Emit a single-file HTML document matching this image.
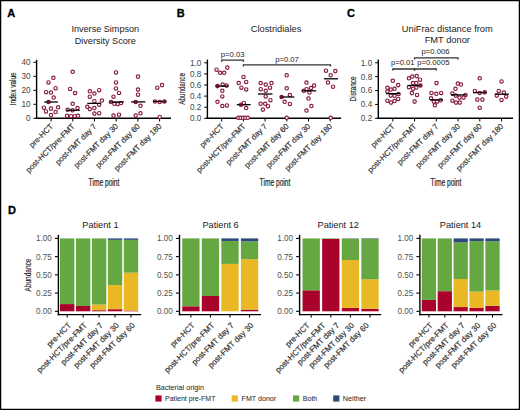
<!DOCTYPE html>
<html><head><meta charset="utf-8"><style>
html,body{margin:0;padding:0;background:#fff;}
svg{display:block;}
text{font-family:"Liberation Sans", sans-serif;}
</style></head><body>
<svg width="520" height="410" viewBox="0 0 520 410">
<rect x="0" y="0" width="520" height="410" fill="#fff"/>
<line x1="36.60" y1="59.80" x2="36.60" y2="119.00" stroke="#000" stroke-width="1.4"/>
<line x1="35.90" y1="118.30" x2="171.00" y2="118.30" stroke="#000" stroke-width="1.4"/>
<line x1="33.40" y1="118.30" x2="36.60" y2="118.30" stroke="#000" stroke-width="1.0"/>
<text x="30.50" y="121.20" font-size="8.2" text-anchor="end" fill="#454545" font-weight="normal" >0</text>
<line x1="33.40" y1="104.30" x2="36.60" y2="104.30" stroke="#000" stroke-width="1.0"/>
<text x="30.50" y="107.20" font-size="8.2" text-anchor="end" fill="#454545" font-weight="normal" >10</text>
<line x1="33.40" y1="90.30" x2="36.60" y2="90.30" stroke="#000" stroke-width="1.0"/>
<text x="30.50" y="93.20" font-size="8.2" text-anchor="end" fill="#454545" font-weight="normal" >20</text>
<line x1="33.40" y1="76.30" x2="36.60" y2="76.30" stroke="#000" stroke-width="1.0"/>
<text x="30.50" y="79.20" font-size="8.2" text-anchor="end" fill="#454545" font-weight="normal" >30</text>
<line x1="33.40" y1="62.30" x2="36.60" y2="62.30" stroke="#000" stroke-width="1.0"/>
<text x="30.50" y="65.20" font-size="8.2" text-anchor="end" fill="#454545" font-weight="normal" >40</text>
<line x1="51.10" y1="118.30" x2="51.10" y2="121.50" stroke="#000" stroke-width="1.0"/>
<line x1="72.80" y1="118.30" x2="72.80" y2="121.50" stroke="#000" stroke-width="1.0"/>
<line x1="94.50" y1="118.30" x2="94.50" y2="121.50" stroke="#000" stroke-width="1.0"/>
<line x1="116.20" y1="118.30" x2="116.20" y2="121.50" stroke="#000" stroke-width="1.0"/>
<line x1="137.90" y1="118.30" x2="137.90" y2="121.50" stroke="#000" stroke-width="1.0"/>
<line x1="159.60" y1="118.30" x2="159.60" y2="121.50" stroke="#000" stroke-width="1.0"/>
<circle cx="53.40" cy="77.80" r="1.7" fill="#fff" stroke="#881c3f" stroke-width="1.15"/>
<circle cx="48.50" cy="82.40" r="1.7" fill="#fff" stroke="#881c3f" stroke-width="1.15"/>
<circle cx="55.60" cy="88.20" r="1.7" fill="#fff" stroke="#881c3f" stroke-width="1.15"/>
<circle cx="46.10" cy="92.20" r="1.7" fill="#fff" stroke="#881c3f" stroke-width="1.15"/>
<circle cx="51.00" cy="92.50" r="1.7" fill="#fff" stroke="#881c3f" stroke-width="1.15"/>
<circle cx="53.70" cy="97.50" r="1.7" fill="#fff" stroke="#881c3f" stroke-width="1.15"/>
<circle cx="48.50" cy="102.00" r="1.7" fill="#fff" stroke="#881c3f" stroke-width="1.15"/>
<circle cx="43.90" cy="107.70" r="1.7" fill="#fff" stroke="#881c3f" stroke-width="1.15"/>
<circle cx="46.00" cy="111.40" r="1.7" fill="#fff" stroke="#881c3f" stroke-width="1.15"/>
<circle cx="51.00" cy="108.60" r="1.7" fill="#fff" stroke="#881c3f" stroke-width="1.15"/>
<circle cx="58.10" cy="107.30" r="1.7" fill="#fff" stroke="#881c3f" stroke-width="1.15"/>
<circle cx="55.60" cy="112.00" r="1.7" fill="#fff" stroke="#881c3f" stroke-width="1.15"/>
<circle cx="51.00" cy="115.00" r="1.7" fill="#fff" stroke="#881c3f" stroke-width="1.15"/>
<circle cx="72.70" cy="71.80" r="1.7" fill="#fff" stroke="#881c3f" stroke-width="1.15"/>
<circle cx="70.10" cy="88.90" r="1.7" fill="#fff" stroke="#881c3f" stroke-width="1.15"/>
<circle cx="75.10" cy="93.10" r="1.7" fill="#fff" stroke="#881c3f" stroke-width="1.15"/>
<circle cx="72.70" cy="103.80" r="1.7" fill="#fff" stroke="#881c3f" stroke-width="1.15"/>
<circle cx="67.70" cy="109.80" r="1.7" fill="#fff" stroke="#881c3f" stroke-width="1.15"/>
<circle cx="77.50" cy="108.00" r="1.7" fill="#fff" stroke="#881c3f" stroke-width="1.15"/>
<circle cx="72.50" cy="110.30" r="1.7" fill="#fff" stroke="#881c3f" stroke-width="1.15"/>
<circle cx="67.00" cy="115.80" r="1.7" fill="#fff" stroke="#881c3f" stroke-width="1.15"/>
<circle cx="71.00" cy="116.20" r="1.7" fill="#fff" stroke="#881c3f" stroke-width="1.15"/>
<circle cx="74.70" cy="116.20" r="1.7" fill="#fff" stroke="#881c3f" stroke-width="1.15"/>
<circle cx="78.00" cy="115.80" r="1.7" fill="#fff" stroke="#881c3f" stroke-width="1.15"/>
<circle cx="89.80" cy="91.30" r="1.7" fill="#fff" stroke="#881c3f" stroke-width="1.15"/>
<circle cx="94.40" cy="93.50" r="1.7" fill="#fff" stroke="#881c3f" stroke-width="1.15"/>
<circle cx="99.20" cy="90.20" r="1.7" fill="#fff" stroke="#881c3f" stroke-width="1.15"/>
<circle cx="89.80" cy="96.70" r="1.7" fill="#fff" stroke="#881c3f" stroke-width="1.15"/>
<circle cx="94.40" cy="101.20" r="1.7" fill="#fff" stroke="#881c3f" stroke-width="1.15"/>
<circle cx="101.90" cy="100.50" r="1.7" fill="#fff" stroke="#881c3f" stroke-width="1.15"/>
<circle cx="99.20" cy="104.70" r="1.7" fill="#fff" stroke="#881c3f" stroke-width="1.15"/>
<circle cx="87.30" cy="106.80" r="1.7" fill="#fff" stroke="#881c3f" stroke-width="1.15"/>
<circle cx="89.80" cy="109.10" r="1.7" fill="#fff" stroke="#881c3f" stroke-width="1.15"/>
<circle cx="94.40" cy="108.00" r="1.7" fill="#fff" stroke="#881c3f" stroke-width="1.15"/>
<circle cx="94.40" cy="113.60" r="1.7" fill="#fff" stroke="#881c3f" stroke-width="1.15"/>
<circle cx="99.20" cy="113.20" r="1.7" fill="#fff" stroke="#881c3f" stroke-width="1.15"/>
<circle cx="116.00" cy="72.40" r="1.7" fill="#fff" stroke="#881c3f" stroke-width="1.15"/>
<circle cx="116.00" cy="82.40" r="1.7" fill="#fff" stroke="#881c3f" stroke-width="1.15"/>
<circle cx="116.00" cy="88.40" r="1.7" fill="#fff" stroke="#881c3f" stroke-width="1.15"/>
<circle cx="119.00" cy="92.90" r="1.7" fill="#fff" stroke="#881c3f" stroke-width="1.15"/>
<circle cx="113.50" cy="96.70" r="1.7" fill="#fff" stroke="#881c3f" stroke-width="1.15"/>
<circle cx="111.00" cy="102.00" r="1.7" fill="#fff" stroke="#881c3f" stroke-width="1.15"/>
<circle cx="114.40" cy="103.80" r="1.7" fill="#fff" stroke="#881c3f" stroke-width="1.15"/>
<circle cx="117.80" cy="104.10" r="1.7" fill="#fff" stroke="#881c3f" stroke-width="1.15"/>
<circle cx="121.00" cy="103.00" r="1.7" fill="#fff" stroke="#881c3f" stroke-width="1.15"/>
<circle cx="113.50" cy="115.60" r="1.7" fill="#fff" stroke="#881c3f" stroke-width="1.15"/>
<circle cx="119.00" cy="114.70" r="1.7" fill="#fff" stroke="#881c3f" stroke-width="1.15"/>
<circle cx="138.00" cy="76.60" r="1.7" fill="#fff" stroke="#881c3f" stroke-width="1.15"/>
<circle cx="138.00" cy="89.60" r="1.7" fill="#fff" stroke="#881c3f" stroke-width="1.15"/>
<circle cx="138.00" cy="94.70" r="1.7" fill="#fff" stroke="#881c3f" stroke-width="1.15"/>
<circle cx="135.70" cy="101.90" r="1.7" fill="#fff" stroke="#881c3f" stroke-width="1.15"/>
<circle cx="140.50" cy="105.80" r="1.7" fill="#fff" stroke="#881c3f" stroke-width="1.15"/>
<circle cx="140.50" cy="113.30" r="1.7" fill="#fff" stroke="#881c3f" stroke-width="1.15"/>
<circle cx="135.70" cy="115.60" r="1.7" fill="#fff" stroke="#881c3f" stroke-width="1.15"/>
<circle cx="157.30" cy="87.70" r="1.7" fill="#fff" stroke="#881c3f" stroke-width="1.15"/>
<circle cx="162.00" cy="85.10" r="1.7" fill="#fff" stroke="#881c3f" stroke-width="1.15"/>
<circle cx="155.00" cy="101.50" r="1.7" fill="#fff" stroke="#881c3f" stroke-width="1.15"/>
<circle cx="159.70" cy="101.90" r="1.7" fill="#fff" stroke="#881c3f" stroke-width="1.15"/>
<circle cx="164.40" cy="101.50" r="1.7" fill="#fff" stroke="#881c3f" stroke-width="1.15"/>
<circle cx="159.70" cy="116.90" r="1.7" fill="#fff" stroke="#881c3f" stroke-width="1.15"/>
<line x1="44.30" y1="102.00" x2="57.90" y2="102.00" stroke="#000" stroke-width="1.3"/>
<line x1="66.20" y1="110.30" x2="79.80" y2="110.30" stroke="#000" stroke-width="1.3"/>
<line x1="87.30" y1="103.40" x2="101.10" y2="103.40" stroke="#000" stroke-width="1.3"/>
<line x1="109.50" y1="102.00" x2="123.80" y2="102.00" stroke="#000" stroke-width="1.3"/>
<line x1="131.10" y1="101.90" x2="145.30" y2="101.90" stroke="#000" stroke-width="1.3"/>
<line x1="153.00" y1="101.50" x2="166.50" y2="101.50" stroke="#000" stroke-width="1.3"/>
<text transform="translate(53.50,126.90) rotate(-45)" font-size="7.8" text-anchor="end" fill="#333" stroke="#333" stroke-width="0.2">pre-HCT</text>
<text transform="translate(75.20,126.90) rotate(-45)" font-size="7.8" text-anchor="end" fill="#333" stroke="#333" stroke-width="0.2">post-HCT/pre-FMT</text>
<text transform="translate(96.90,126.90) rotate(-45)" font-size="7.8" text-anchor="end" fill="#333" stroke="#333" stroke-width="0.2">post-FMT day 7</text>
<text transform="translate(118.60,126.90) rotate(-45)" font-size="7.8" text-anchor="end" fill="#333" stroke="#333" stroke-width="0.2">post-FMT day 30</text>
<text transform="translate(140.30,126.90) rotate(-45)" font-size="7.8" text-anchor="end" fill="#333" stroke="#333" stroke-width="0.2">post-FMT day 60</text>
<text transform="translate(162.00,126.90) rotate(-45)" font-size="7.8" text-anchor="end" fill="#333" stroke="#333" stroke-width="0.2">post-FMT day 180</text>
<text transform="translate(15.60,88.9) rotate(-90)" font-size="8.6" text-anchor="middle" stroke="#222" stroke-width="0.15" fill="#222" textLength="33" lengthAdjust="spacingAndGlyphs">Index value</text>
<text x="104.00" y="185.60" font-size="10.2" text-anchor="middle" fill="#222" font-weight="normal" textLength="30.8" lengthAdjust="spacingAndGlyphs" stroke="#222" stroke-width="0.2">Time point</text>
<line x1="207.40" y1="59.60" x2="207.40" y2="119.00" stroke="#000" stroke-width="1.4"/>
<line x1="206.70" y1="118.30" x2="341.10" y2="118.30" stroke="#000" stroke-width="1.4"/>
<line x1="204.20" y1="118.30" x2="207.40" y2="118.30" stroke="#000" stroke-width="1.0"/>
<text x="201.30" y="121.20" font-size="8.2" text-anchor="end" fill="#454545" font-weight="normal" >0.0</text>
<line x1="204.20" y1="107.20" x2="207.40" y2="107.20" stroke="#000" stroke-width="1.0"/>
<text x="201.30" y="110.10" font-size="8.2" text-anchor="end" fill="#454545" font-weight="normal" >0.2</text>
<line x1="204.20" y1="96.10" x2="207.40" y2="96.10" stroke="#000" stroke-width="1.0"/>
<text x="201.30" y="99.00" font-size="8.2" text-anchor="end" fill="#454545" font-weight="normal" >0.4</text>
<line x1="204.20" y1="85.00" x2="207.40" y2="85.00" stroke="#000" stroke-width="1.0"/>
<text x="201.30" y="87.90" font-size="8.2" text-anchor="end" fill="#454545" font-weight="normal" >0.6</text>
<line x1="204.20" y1="73.90" x2="207.40" y2="73.90" stroke="#000" stroke-width="1.0"/>
<text x="201.30" y="76.80" font-size="8.2" text-anchor="end" fill="#454545" font-weight="normal" >0.8</text>
<line x1="204.20" y1="62.80" x2="207.40" y2="62.80" stroke="#000" stroke-width="1.0"/>
<text x="201.30" y="65.70" font-size="8.2" text-anchor="end" fill="#454545" font-weight="normal" >1.0</text>
<line x1="221.70" y1="118.30" x2="221.70" y2="121.50" stroke="#000" stroke-width="1.0"/>
<line x1="243.40" y1="118.30" x2="243.40" y2="121.50" stroke="#000" stroke-width="1.0"/>
<line x1="265.10" y1="118.30" x2="265.10" y2="121.50" stroke="#000" stroke-width="1.0"/>
<line x1="286.80" y1="118.30" x2="286.80" y2="121.50" stroke="#000" stroke-width="1.0"/>
<line x1="308.50" y1="118.30" x2="308.50" y2="121.50" stroke="#000" stroke-width="1.0"/>
<line x1="330.20" y1="118.30" x2="330.20" y2="121.50" stroke="#000" stroke-width="1.0"/>
<circle cx="216.50" cy="69.70" r="1.7" fill="#fff" stroke="#881c3f" stroke-width="1.15"/>
<circle cx="220.20" cy="72.80" r="1.7" fill="#fff" stroke="#881c3f" stroke-width="1.15"/>
<circle cx="224.20" cy="72.80" r="1.7" fill="#fff" stroke="#881c3f" stroke-width="1.15"/>
<circle cx="227.30" cy="67.60" r="1.7" fill="#fff" stroke="#881c3f" stroke-width="1.15"/>
<circle cx="217.50" cy="86.10" r="1.7" fill="#fff" stroke="#881c3f" stroke-width="1.15"/>
<circle cx="222.70" cy="84.60" r="1.7" fill="#fff" stroke="#881c3f" stroke-width="1.15"/>
<circle cx="226.50" cy="85.60" r="1.7" fill="#fff" stroke="#881c3f" stroke-width="1.15"/>
<circle cx="222.30" cy="90.80" r="1.7" fill="#fff" stroke="#881c3f" stroke-width="1.15"/>
<circle cx="222.30" cy="96.40" r="1.7" fill="#fff" stroke="#881c3f" stroke-width="1.15"/>
<circle cx="217.50" cy="101.80" r="1.7" fill="#fff" stroke="#881c3f" stroke-width="1.15"/>
<circle cx="222.30" cy="106.00" r="1.7" fill="#fff" stroke="#881c3f" stroke-width="1.15"/>
<circle cx="226.90" cy="105.40" r="1.7" fill="#fff" stroke="#881c3f" stroke-width="1.15"/>
<circle cx="243.50" cy="76.90" r="1.7" fill="#fff" stroke="#881c3f" stroke-width="1.15"/>
<circle cx="238.70" cy="83.00" r="1.7" fill="#fff" stroke="#881c3f" stroke-width="1.15"/>
<circle cx="246.20" cy="81.90" r="1.7" fill="#fff" stroke="#881c3f" stroke-width="1.15"/>
<circle cx="241.40" cy="87.70" r="1.7" fill="#fff" stroke="#881c3f" stroke-width="1.15"/>
<circle cx="246.20" cy="89.40" r="1.7" fill="#fff" stroke="#881c3f" stroke-width="1.15"/>
<circle cx="243.90" cy="102.90" r="1.7" fill="#fff" stroke="#881c3f" stroke-width="1.15"/>
<circle cx="241.00" cy="104.70" r="1.7" fill="#fff" stroke="#881c3f" stroke-width="1.15"/>
<circle cx="246.20" cy="108.00" r="1.7" fill="#fff" stroke="#881c3f" stroke-width="1.15"/>
<circle cx="238.30" cy="117.80" r="1.7" fill="#fff" stroke="#881c3f" stroke-width="1.15"/>
<circle cx="240.60" cy="117.80" r="1.7" fill="#fff" stroke="#881c3f" stroke-width="1.15"/>
<circle cx="243.00" cy="117.80" r="1.7" fill="#fff" stroke="#881c3f" stroke-width="1.15"/>
<circle cx="245.40" cy="117.80" r="1.7" fill="#fff" stroke="#881c3f" stroke-width="1.15"/>
<circle cx="247.80" cy="117.80" r="1.7" fill="#fff" stroke="#881c3f" stroke-width="1.15"/>
<circle cx="260.70" cy="83.00" r="1.7" fill="#fff" stroke="#881c3f" stroke-width="1.15"/>
<circle cx="265.70" cy="84.60" r="1.7" fill="#fff" stroke="#881c3f" stroke-width="1.15"/>
<circle cx="271.50" cy="83.00" r="1.7" fill="#fff" stroke="#881c3f" stroke-width="1.15"/>
<circle cx="260.70" cy="89.20" r="1.7" fill="#fff" stroke="#881c3f" stroke-width="1.15"/>
<circle cx="265.70" cy="90.80" r="1.7" fill="#fff" stroke="#881c3f" stroke-width="1.15"/>
<circle cx="270.00" cy="87.70" r="1.7" fill="#fff" stroke="#881c3f" stroke-width="1.15"/>
<circle cx="265.70" cy="96.40" r="1.7" fill="#fff" stroke="#881c3f" stroke-width="1.15"/>
<circle cx="270.40" cy="100.20" r="1.7" fill="#fff" stroke="#881c3f" stroke-width="1.15"/>
<circle cx="260.60" cy="103.80" r="1.7" fill="#fff" stroke="#881c3f" stroke-width="1.15"/>
<circle cx="265.20" cy="103.80" r="1.7" fill="#fff" stroke="#881c3f" stroke-width="1.15"/>
<circle cx="268.00" cy="106.20" r="1.7" fill="#fff" stroke="#881c3f" stroke-width="1.15"/>
<circle cx="262.90" cy="109.60" r="1.7" fill="#fff" stroke="#881c3f" stroke-width="1.15"/>
<circle cx="286.70" cy="75.30" r="1.7" fill="#fff" stroke="#881c3f" stroke-width="1.15"/>
<circle cx="286.70" cy="88.30" r="1.7" fill="#fff" stroke="#881c3f" stroke-width="1.15"/>
<circle cx="289.90" cy="95.00" r="1.7" fill="#fff" stroke="#881c3f" stroke-width="1.15"/>
<circle cx="281.60" cy="97.00" r="1.7" fill="#fff" stroke="#881c3f" stroke-width="1.15"/>
<circle cx="284.70" cy="101.80" r="1.7" fill="#fff" stroke="#881c3f" stroke-width="1.15"/>
<circle cx="289.90" cy="103.90" r="1.7" fill="#fff" stroke="#881c3f" stroke-width="1.15"/>
<circle cx="286.70" cy="117.80" r="1.7" fill="#fff" stroke="#881c3f" stroke-width="1.15"/>
<circle cx="306.50" cy="82.50" r="1.7" fill="#fff" stroke="#881c3f" stroke-width="1.15"/>
<circle cx="314.10" cy="85.60" r="1.7" fill="#fff" stroke="#881c3f" stroke-width="1.15"/>
<circle cx="306.50" cy="89.20" r="1.7" fill="#fff" stroke="#881c3f" stroke-width="1.15"/>
<circle cx="311.00" cy="88.10" r="1.7" fill="#fff" stroke="#881c3f" stroke-width="1.15"/>
<circle cx="309.40" cy="92.50" r="1.7" fill="#fff" stroke="#881c3f" stroke-width="1.15"/>
<circle cx="303.80" cy="90.80" r="1.7" fill="#fff" stroke="#881c3f" stroke-width="1.15"/>
<circle cx="308.50" cy="98.50" r="1.7" fill="#fff" stroke="#881c3f" stroke-width="1.15"/>
<circle cx="311.40" cy="106.00" r="1.7" fill="#fff" stroke="#881c3f" stroke-width="1.15"/>
<circle cx="306.50" cy="110.50" r="1.7" fill="#fff" stroke="#881c3f" stroke-width="1.15"/>
<circle cx="326.00" cy="70.70" r="1.7" fill="#fff" stroke="#881c3f" stroke-width="1.15"/>
<circle cx="335.30" cy="71.10" r="1.7" fill="#fff" stroke="#881c3f" stroke-width="1.15"/>
<circle cx="330.70" cy="75.30" r="1.7" fill="#fff" stroke="#881c3f" stroke-width="1.15"/>
<circle cx="328.00" cy="82.50" r="1.7" fill="#fff" stroke="#881c3f" stroke-width="1.15"/>
<circle cx="333.00" cy="86.70" r="1.7" fill="#fff" stroke="#881c3f" stroke-width="1.15"/>
<circle cx="330.70" cy="117.80" r="1.7" fill="#fff" stroke="#881c3f" stroke-width="1.15"/>
<line x1="215.50" y1="86.10" x2="228.50" y2="86.10" stroke="#000" stroke-width="1.3"/>
<line x1="236.80" y1="104.70" x2="250.70" y2="104.70" stroke="#000" stroke-width="1.3"/>
<line x1="258.00" y1="94.00" x2="272.50" y2="94.00" stroke="#000" stroke-width="1.3"/>
<line x1="279.90" y1="97.00" x2="294.40" y2="97.00" stroke="#000" stroke-width="1.3"/>
<line x1="301.70" y1="90.80" x2="316.20" y2="90.80" stroke="#000" stroke-width="1.3"/>
<line x1="323.90" y1="78.80" x2="338.00" y2="78.80" stroke="#000" stroke-width="1.3"/>
<text transform="translate(224.10,126.90) rotate(-45)" font-size="7.8" text-anchor="end" fill="#333" stroke="#333" stroke-width="0.2">pre-HCT</text>
<text transform="translate(245.80,126.90) rotate(-45)" font-size="7.8" text-anchor="end" fill="#333" stroke="#333" stroke-width="0.2">post-HCT/pre-FMT</text>
<text transform="translate(267.50,126.90) rotate(-45)" font-size="7.8" text-anchor="end" fill="#333" stroke="#333" stroke-width="0.2">post-FMT day 7</text>
<text transform="translate(289.20,126.90) rotate(-45)" font-size="7.8" text-anchor="end" fill="#333" stroke="#333" stroke-width="0.2">post-FMT day 60</text>
<text transform="translate(310.90,126.90) rotate(-45)" font-size="7.8" text-anchor="end" fill="#333" stroke="#333" stroke-width="0.2">post-FMT day 30</text>
<text transform="translate(332.60,126.90) rotate(-45)" font-size="7.8" text-anchor="end" fill="#333" stroke="#333" stroke-width="0.2">post-FMT day 180</text>
<text transform="translate(185.20,88.9) rotate(-90)" font-size="8.6" text-anchor="middle" stroke="#222" stroke-width="0.15" fill="#222" textLength="31.7" lengthAdjust="spacingAndGlyphs">Abundance</text>
<text x="275.00" y="185.60" font-size="10.2" text-anchor="middle" fill="#222" font-weight="normal" textLength="30.8" lengthAdjust="spacingAndGlyphs" stroke="#222" stroke-width="0.2">Time point</text>
<line x1="378.30" y1="59.60" x2="378.30" y2="119.00" stroke="#000" stroke-width="1.4"/>
<line x1="377.60" y1="118.30" x2="513.00" y2="118.30" stroke="#000" stroke-width="1.4"/>
<line x1="375.10" y1="118.30" x2="378.30" y2="118.30" stroke="#000" stroke-width="1.0"/>
<text x="372.20" y="121.20" font-size="8.2" text-anchor="end" fill="#454545" font-weight="normal" >0.2</text>
<line x1="375.10" y1="104.42" x2="378.30" y2="104.42" stroke="#000" stroke-width="1.0"/>
<text x="372.20" y="107.32" font-size="8.2" text-anchor="end" fill="#454545" font-weight="normal" >0.4</text>
<line x1="375.10" y1="90.54" x2="378.30" y2="90.54" stroke="#000" stroke-width="1.0"/>
<text x="372.20" y="93.44" font-size="8.2" text-anchor="end" fill="#454545" font-weight="normal" >0.6</text>
<line x1="375.10" y1="76.66" x2="378.30" y2="76.66" stroke="#000" stroke-width="1.0"/>
<text x="372.20" y="79.56" font-size="8.2" text-anchor="end" fill="#454545" font-weight="normal" >0.8</text>
<line x1="375.10" y1="62.78" x2="378.30" y2="62.78" stroke="#000" stroke-width="1.0"/>
<text x="372.20" y="65.68" font-size="8.2" text-anchor="end" fill="#454545" font-weight="normal" >1.0</text>
<line x1="392.80" y1="118.30" x2="392.80" y2="121.50" stroke="#000" stroke-width="1.0"/>
<line x1="414.55" y1="118.30" x2="414.55" y2="121.50" stroke="#000" stroke-width="1.0"/>
<line x1="436.30" y1="118.30" x2="436.30" y2="121.50" stroke="#000" stroke-width="1.0"/>
<line x1="458.05" y1="118.30" x2="458.05" y2="121.50" stroke="#000" stroke-width="1.0"/>
<line x1="479.80" y1="118.30" x2="479.80" y2="121.50" stroke="#000" stroke-width="1.0"/>
<line x1="501.55" y1="118.30" x2="501.55" y2="121.50" stroke="#000" stroke-width="1.0"/>
<circle cx="392.80" cy="80.80" r="1.7" fill="#fff" stroke="#881c3f" stroke-width="1.15"/>
<circle cx="398.20" cy="85.10" r="1.7" fill="#fff" stroke="#881c3f" stroke-width="1.15"/>
<circle cx="387.40" cy="87.80" r="1.7" fill="#fff" stroke="#881c3f" stroke-width="1.15"/>
<circle cx="390.80" cy="89.50" r="1.7" fill="#fff" stroke="#881c3f" stroke-width="1.15"/>
<circle cx="394.50" cy="88.80" r="1.7" fill="#fff" stroke="#881c3f" stroke-width="1.15"/>
<circle cx="387.40" cy="91.50" r="1.7" fill="#fff" stroke="#881c3f" stroke-width="1.15"/>
<circle cx="398.60" cy="94.00" r="1.7" fill="#fff" stroke="#881c3f" stroke-width="1.15"/>
<circle cx="390.80" cy="95.60" r="1.7" fill="#fff" stroke="#881c3f" stroke-width="1.15"/>
<circle cx="394.50" cy="95.80" r="1.7" fill="#fff" stroke="#881c3f" stroke-width="1.15"/>
<circle cx="398.20" cy="98.90" r="1.7" fill="#fff" stroke="#881c3f" stroke-width="1.15"/>
<circle cx="387.40" cy="100.70" r="1.7" fill="#fff" stroke="#881c3f" stroke-width="1.15"/>
<circle cx="391.00" cy="102.60" r="1.7" fill="#fff" stroke="#881c3f" stroke-width="1.15"/>
<circle cx="394.50" cy="101.00" r="1.7" fill="#fff" stroke="#881c3f" stroke-width="1.15"/>
<circle cx="408.90" cy="78.30" r="1.7" fill="#fff" stroke="#881c3f" stroke-width="1.15"/>
<circle cx="412.30" cy="76.50" r="1.7" fill="#fff" stroke="#881c3f" stroke-width="1.15"/>
<circle cx="416.70" cy="76.10" r="1.7" fill="#fff" stroke="#881c3f" stroke-width="1.15"/>
<circle cx="420.00" cy="79.70" r="1.7" fill="#fff" stroke="#881c3f" stroke-width="1.15"/>
<circle cx="413.00" cy="83.10" r="1.7" fill="#fff" stroke="#881c3f" stroke-width="1.15"/>
<circle cx="416.30" cy="83.10" r="1.7" fill="#fff" stroke="#881c3f" stroke-width="1.15"/>
<circle cx="420.40" cy="85.50" r="1.7" fill="#fff" stroke="#881c3f" stroke-width="1.15"/>
<circle cx="408.90" cy="87.20" r="1.7" fill="#fff" stroke="#881c3f" stroke-width="1.15"/>
<circle cx="413.00" cy="88.80" r="1.7" fill="#fff" stroke="#881c3f" stroke-width="1.15"/>
<circle cx="416.30" cy="87.50" r="1.7" fill="#fff" stroke="#881c3f" stroke-width="1.15"/>
<circle cx="411.90" cy="93.10" r="1.7" fill="#fff" stroke="#881c3f" stroke-width="1.15"/>
<circle cx="417.00" cy="94.90" r="1.7" fill="#fff" stroke="#881c3f" stroke-width="1.15"/>
<circle cx="414.60" cy="101.60" r="1.7" fill="#fff" stroke="#881c3f" stroke-width="1.15"/>
<circle cx="436.50" cy="83.10" r="1.7" fill="#fff" stroke="#881c3f" stroke-width="1.15"/>
<circle cx="431.50" cy="92.90" r="1.7" fill="#fff" stroke="#881c3f" stroke-width="1.15"/>
<circle cx="436.30" cy="93.80" r="1.7" fill="#fff" stroke="#881c3f" stroke-width="1.15"/>
<circle cx="441.20" cy="92.90" r="1.7" fill="#fff" stroke="#881c3f" stroke-width="1.15"/>
<circle cx="431.10" cy="98.30" r="1.7" fill="#fff" stroke="#881c3f" stroke-width="1.15"/>
<circle cx="433.80" cy="101.60" r="1.7" fill="#fff" stroke="#881c3f" stroke-width="1.15"/>
<circle cx="437.20" cy="101.60" r="1.7" fill="#fff" stroke="#881c3f" stroke-width="1.15"/>
<circle cx="440.60" cy="100.30" r="1.7" fill="#fff" stroke="#881c3f" stroke-width="1.15"/>
<circle cx="434.90" cy="105.30" r="1.7" fill="#fff" stroke="#881c3f" stroke-width="1.15"/>
<circle cx="457.80" cy="83.50" r="1.7" fill="#fff" stroke="#881c3f" stroke-width="1.15"/>
<circle cx="460.90" cy="84.50" r="1.7" fill="#fff" stroke="#881c3f" stroke-width="1.15"/>
<circle cx="455.50" cy="88.80" r="1.7" fill="#fff" stroke="#881c3f" stroke-width="1.15"/>
<circle cx="452.40" cy="93.60" r="1.7" fill="#fff" stroke="#881c3f" stroke-width="1.15"/>
<circle cx="455.80" cy="95.60" r="1.7" fill="#fff" stroke="#881c3f" stroke-width="1.15"/>
<circle cx="459.50" cy="97.60" r="1.7" fill="#fff" stroke="#881c3f" stroke-width="1.15"/>
<circle cx="463.60" cy="97.60" r="1.7" fill="#fff" stroke="#881c3f" stroke-width="1.15"/>
<circle cx="465.50" cy="94.90" r="1.7" fill="#fff" stroke="#881c3f" stroke-width="1.15"/>
<circle cx="452.40" cy="100.70" r="1.7" fill="#fff" stroke="#881c3f" stroke-width="1.15"/>
<circle cx="456.00" cy="102.60" r="1.7" fill="#fff" stroke="#881c3f" stroke-width="1.15"/>
<circle cx="459.80" cy="102.60" r="1.7" fill="#fff" stroke="#881c3f" stroke-width="1.15"/>
<circle cx="479.70" cy="78.30" r="1.7" fill="#fff" stroke="#881c3f" stroke-width="1.15"/>
<circle cx="474.90" cy="90.90" r="1.7" fill="#fff" stroke="#881c3f" stroke-width="1.15"/>
<circle cx="479.70" cy="92.90" r="1.7" fill="#fff" stroke="#881c3f" stroke-width="1.15"/>
<circle cx="484.70" cy="92.20" r="1.7" fill="#fff" stroke="#881c3f" stroke-width="1.15"/>
<circle cx="477.30" cy="99.60" r="1.7" fill="#fff" stroke="#881c3f" stroke-width="1.15"/>
<circle cx="482.40" cy="99.60" r="1.7" fill="#fff" stroke="#881c3f" stroke-width="1.15"/>
<circle cx="479.70" cy="107.70" r="1.7" fill="#fff" stroke="#881c3f" stroke-width="1.15"/>
<circle cx="501.50" cy="81.40" r="1.7" fill="#fff" stroke="#881c3f" stroke-width="1.15"/>
<circle cx="498.80" cy="90.90" r="1.7" fill="#fff" stroke="#881c3f" stroke-width="1.15"/>
<circle cx="503.90" cy="92.60" r="1.7" fill="#fff" stroke="#881c3f" stroke-width="1.15"/>
<circle cx="496.80" cy="95.60" r="1.7" fill="#fff" stroke="#881c3f" stroke-width="1.15"/>
<circle cx="506.20" cy="96.60" r="1.7" fill="#fff" stroke="#881c3f" stroke-width="1.15"/>
<circle cx="501.50" cy="99.90" r="1.7" fill="#fff" stroke="#881c3f" stroke-width="1.15"/>
<line x1="386.00" y1="93.60" x2="399.90" y2="93.60" stroke="#000" stroke-width="1.3"/>
<line x1="407.60" y1="85.50" x2="421.70" y2="85.50" stroke="#000" stroke-width="1.3"/>
<line x1="430.00" y1="99.90" x2="443.00" y2="99.90" stroke="#000" stroke-width="1.3"/>
<line x1="451.00" y1="94.90" x2="466.50" y2="94.90" stroke="#000" stroke-width="1.3"/>
<line x1="473.00" y1="92.60" x2="486.70" y2="92.60" stroke="#000" stroke-width="1.3"/>
<line x1="494.80" y1="94.20" x2="508.90" y2="94.20" stroke="#000" stroke-width="1.3"/>
<text transform="translate(395.20,126.90) rotate(-45)" font-size="7.8" text-anchor="end" fill="#333" stroke="#333" stroke-width="0.2">pre-HCT</text>
<text transform="translate(416.95,126.90) rotate(-45)" font-size="7.8" text-anchor="end" fill="#333" stroke="#333" stroke-width="0.2">post-HCT/pre-FMT</text>
<text transform="translate(438.70,126.90) rotate(-45)" font-size="7.8" text-anchor="end" fill="#333" stroke="#333" stroke-width="0.2">post-FMT day 7</text>
<text transform="translate(460.45,126.90) rotate(-45)" font-size="7.8" text-anchor="end" fill="#333" stroke="#333" stroke-width="0.2">post-FMT day 30</text>
<text transform="translate(482.20,126.90) rotate(-45)" font-size="7.8" text-anchor="end" fill="#333" stroke="#333" stroke-width="0.2">post-FMT day 60</text>
<text transform="translate(503.95,126.90) rotate(-45)" font-size="7.8" text-anchor="end" fill="#333" stroke="#333" stroke-width="0.2">post-FMT day 180</text>
<text transform="translate(355.60,88.9) rotate(-90)" font-size="8.6" text-anchor="middle" stroke="#222" stroke-width="0.15" fill="#222" textLength="25" lengthAdjust="spacingAndGlyphs">Distance</text>
<text x="446.00" y="185.60" font-size="10.2" text-anchor="middle" fill="#222" font-weight="normal" textLength="30.8" lengthAdjust="spacingAndGlyphs" stroke="#222" stroke-width="0.2">Time point</text>
<circle cx="48.50" cy="102.00" r="1.6" fill="#6a1530"/>
<circle cx="135.70" cy="101.90" r="1.6" fill="#6a1530"/>
<circle cx="164.40" cy="101.50" r="1.6" fill="#6a1530"/>
<circle cx="217.50" cy="86.10" r="1.6" fill="#6a1530"/>
<circle cx="241.00" cy="104.70" r="1.6" fill="#6a1530"/>
<circle cx="281.60" cy="97.00" r="1.6" fill="#6a1530"/>
<circle cx="420.40" cy="85.50" r="1.6" fill="#6a1530"/>
<circle cx="484.70" cy="92.20" r="1.6" fill="#6a1530"/>
<polyline points="221.70,61.70 221.70,60.10 243.40,60.10 243.40,61.70" fill="none" stroke="#333" stroke-width="1.3"/>
<text x="232.60" y="56.60" font-size="7.7" text-anchor="middle" fill="#222" font-weight="normal" >p=0.03</text>
<polyline points="243.40,66.50 243.40,64.90 330.50,64.90 330.50,66.50" fill="none" stroke="#333" stroke-width="1.3"/>
<text x="287.00" y="61.60" font-size="7.7" text-anchor="middle" fill="#222" font-weight="normal" >p=0.07</text>
<polyline points="392.80,70.60 392.80,69.00 414.60,69.00 414.60,70.60" fill="none" stroke="#333" stroke-width="1.3"/>
<text x="402.80" y="65.20" font-size="7.7" text-anchor="middle" fill="#222" font-weight="normal" >p=0.01</text>
<polyline points="414.60,70.60 414.60,69.00 436.30,69.00 436.30,70.60" fill="none" stroke="#333" stroke-width="1.3"/>
<text x="433.30" y="65.20" font-size="7.7" text-anchor="middle" fill="#222" font-weight="normal" >p=0.0005</text>
<polyline points="414.60,59.40 414.60,57.80 458.00,57.80 458.00,59.40" fill="none" stroke="#333" stroke-width="1.3"/>
<text x="435.60" y="54.20" font-size="7.7" text-anchor="middle" fill="#222" font-weight="normal" >p=0.006</text>
<text x="105.30" y="31.60" font-size="9.1" text-anchor="middle" fill="#222" font-weight="normal" >Inverse Simpson</text>
<text x="105.30" y="43.50" font-size="9.1" text-anchor="middle" fill="#222" font-weight="normal" >Diversity Score</text>
<text x="276.10" y="31.60" font-size="9.3" text-anchor="middle" fill="#222" font-weight="normal" >Clostridiales</text>
<text x="447.30" y="31.60" font-size="9.3" text-anchor="middle" fill="#222" font-weight="normal" >UniFrac distance from</text>
<text x="447.30" y="43.20" font-size="9.3" text-anchor="middle" fill="#222" font-weight="normal" >FMT donor</text>
<text x="7.30" y="16.60" font-size="11" text-anchor="start" fill="#000" font-weight="bold" stroke="#000" stroke-width="0.3">A</text>
<text x="176.70" y="16.60" font-size="11" text-anchor="start" fill="#000" font-weight="bold" stroke="#000" stroke-width="0.3">B</text>
<text x="347.10" y="16.60" font-size="11" text-anchor="start" fill="#000" font-weight="bold" stroke="#000" stroke-width="0.3">C</text>
<text x="7.90" y="213.50" font-size="11" text-anchor="start" fill="#000" font-weight="bold" stroke="#000" stroke-width="0.3">D</text>
<rect x="60.00" y="304.08" width="14.40" height="7.22" fill="#a9032c"/>
<rect x="60.00" y="238.40" width="14.40" height="65.68" fill="#65a842"/>
<rect x="75.95" y="305.98" width="14.40" height="5.32" fill="#a9032c"/>
<rect x="75.95" y="238.40" width="14.40" height="67.58" fill="#65a842"/>
<rect x="91.90" y="310.21" width="14.40" height="1.09" fill="#a9032c"/>
<rect x="91.90" y="304.52" width="14.40" height="5.69" fill="#e9b824"/>
<rect x="91.90" y="238.40" width="14.40" height="66.12" fill="#65a842"/>
<rect x="107.85" y="309.19" width="14.40" height="2.11" fill="#a9032c"/>
<rect x="107.85" y="285.06" width="14.40" height="24.13" fill="#e9b824"/>
<rect x="107.85" y="239.86" width="14.40" height="45.20" fill="#65a842"/>
<rect x="107.85" y="238.40" width="14.40" height="1.46" fill="#2d4a7a"/>
<rect x="123.80" y="310.57" width="14.40" height="0.73" fill="#a9032c"/>
<rect x="123.80" y="272.66" width="14.40" height="37.91" fill="#e9b824"/>
<rect x="123.80" y="239.86" width="14.40" height="32.81" fill="#65a842"/>
<rect x="123.80" y="238.40" width="14.40" height="1.46" fill="#2d4a7a"/>
<line x1="58.40" y1="234.80" x2="58.40" y2="315.30" stroke="#000" stroke-width="1.4"/>
<line x1="57.70" y1="314.60" x2="141.20" y2="314.60" stroke="#000" stroke-width="1.4"/>
<line x1="54.90" y1="311.30" x2="58.40" y2="311.30" stroke="#000" stroke-width="1.1"/>
<text x="51.80" y="314.30" font-size="9.2" text-anchor="end" fill="#505050" font-weight="normal" textLength="15.8" lengthAdjust="spacingAndGlyphs" >0.00</text>
<line x1="54.90" y1="293.07" x2="58.40" y2="293.07" stroke="#000" stroke-width="1.1"/>
<text x="51.80" y="296.07" font-size="9.2" text-anchor="end" fill="#505050" font-weight="normal" textLength="15.8" lengthAdjust="spacingAndGlyphs" >0.25</text>
<line x1="54.90" y1="274.85" x2="58.40" y2="274.85" stroke="#000" stroke-width="1.1"/>
<text x="51.80" y="277.85" font-size="9.2" text-anchor="end" fill="#505050" font-weight="normal" textLength="15.8" lengthAdjust="spacingAndGlyphs" >0.50</text>
<line x1="54.90" y1="256.62" x2="58.40" y2="256.62" stroke="#000" stroke-width="1.1"/>
<text x="51.80" y="259.62" font-size="9.2" text-anchor="end" fill="#505050" font-weight="normal" textLength="15.8" lengthAdjust="spacingAndGlyphs" >0.75</text>
<line x1="54.90" y1="238.40" x2="58.40" y2="238.40" stroke="#000" stroke-width="1.1"/>
<text x="51.80" y="241.40" font-size="9.2" text-anchor="end" fill="#505050" font-weight="normal" textLength="15.8" lengthAdjust="spacingAndGlyphs" >1.00</text>
<line x1="67.20" y1="314.60" x2="67.20" y2="317.60" stroke="#000" stroke-width="1.0"/>
<line x1="83.15" y1="314.60" x2="83.15" y2="317.60" stroke="#000" stroke-width="1.0"/>
<line x1="99.10" y1="314.60" x2="99.10" y2="317.60" stroke="#000" stroke-width="1.0"/>
<line x1="115.05" y1="314.60" x2="115.05" y2="317.60" stroke="#000" stroke-width="1.0"/>
<line x1="131.00" y1="314.60" x2="131.00" y2="317.60" stroke="#000" stroke-width="1.0"/>
<text transform="translate(71.60,325.90) rotate(-45)" font-size="8.0" text-anchor="end" fill="#333" stroke="#333" stroke-width="0.2">pre-HCT</text>
<text transform="translate(87.55,325.90) rotate(-45)" font-size="8.0" text-anchor="end" fill="#333" stroke="#333" stroke-width="0.2">post-HCT/pre-FMT</text>
<text transform="translate(103.50,325.90) rotate(-45)" font-size="8.0" text-anchor="end" fill="#333" stroke="#333" stroke-width="0.2">post-FMT day 7</text>
<text transform="translate(119.45,325.90) rotate(-45)" font-size="8.0" text-anchor="end" fill="#333" stroke="#333" stroke-width="0.2">post-FMT day 30</text>
<text transform="translate(135.40,325.90) rotate(-45)" font-size="8.0" text-anchor="end" fill="#333" stroke="#333" stroke-width="0.2">post-FMT day 60</text>
<text x="100.40" y="228.10" font-size="9.2" text-anchor="middle" fill="#222" font-weight="normal" >Patient 1</text>
<text transform="translate(31.0,275) rotate(-90)" font-size="8.6" stroke="#222" stroke-width="0.15" text-anchor="middle" fill="#222" textLength="33" lengthAdjust="spacingAndGlyphs">Abundance</text>
<rect x="182.25" y="306.27" width="17.30" height="5.03" fill="#a9032c"/>
<rect x="182.25" y="238.40" width="17.30" height="67.87" fill="#65a842"/>
<rect x="201.80" y="295.99" width="17.30" height="15.31" fill="#a9032c"/>
<rect x="201.80" y="238.40" width="17.30" height="57.59" fill="#65a842"/>
<rect x="221.35" y="263.92" width="17.30" height="47.38" fill="#e9b824"/>
<rect x="221.35" y="240.95" width="17.30" height="22.96" fill="#65a842"/>
<rect x="221.35" y="238.40" width="17.30" height="2.55" fill="#2d4a7a"/>
<rect x="240.90" y="309.62" width="17.30" height="1.68" fill="#a9032c"/>
<rect x="240.90" y="259.18" width="17.30" height="50.45" fill="#e9b824"/>
<rect x="240.90" y="241.32" width="17.30" height="17.86" fill="#65a842"/>
<rect x="240.90" y="238.40" width="17.30" height="2.92" fill="#2d4a7a"/>
<line x1="179.50" y1="234.80" x2="179.50" y2="315.30" stroke="#000" stroke-width="1.4"/>
<line x1="178.80" y1="314.60" x2="261.00" y2="314.60" stroke="#000" stroke-width="1.4"/>
<line x1="176.00" y1="311.30" x2="179.50" y2="311.30" stroke="#000" stroke-width="1.1"/>
<text x="172.90" y="314.30" font-size="9.2" text-anchor="end" fill="#505050" font-weight="normal" textLength="15.8" lengthAdjust="spacingAndGlyphs" >0.00</text>
<line x1="176.00" y1="293.07" x2="179.50" y2="293.07" stroke="#000" stroke-width="1.1"/>
<text x="172.90" y="296.07" font-size="9.2" text-anchor="end" fill="#505050" font-weight="normal" textLength="15.8" lengthAdjust="spacingAndGlyphs" >0.25</text>
<line x1="176.00" y1="274.85" x2="179.50" y2="274.85" stroke="#000" stroke-width="1.1"/>
<text x="172.90" y="277.85" font-size="9.2" text-anchor="end" fill="#505050" font-weight="normal" textLength="15.8" lengthAdjust="spacingAndGlyphs" >0.50</text>
<line x1="176.00" y1="256.62" x2="179.50" y2="256.62" stroke="#000" stroke-width="1.1"/>
<text x="172.90" y="259.62" font-size="9.2" text-anchor="end" fill="#505050" font-weight="normal" textLength="15.8" lengthAdjust="spacingAndGlyphs" >0.75</text>
<line x1="176.00" y1="238.40" x2="179.50" y2="238.40" stroke="#000" stroke-width="1.1"/>
<text x="172.90" y="241.40" font-size="9.2" text-anchor="end" fill="#505050" font-weight="normal" textLength="15.8" lengthAdjust="spacingAndGlyphs" >1.00</text>
<line x1="190.90" y1="314.60" x2="190.90" y2="317.60" stroke="#000" stroke-width="1.0"/>
<line x1="210.45" y1="314.60" x2="210.45" y2="317.60" stroke="#000" stroke-width="1.0"/>
<line x1="230.00" y1="314.60" x2="230.00" y2="317.60" stroke="#000" stroke-width="1.0"/>
<line x1="249.55" y1="314.60" x2="249.55" y2="317.60" stroke="#000" stroke-width="1.0"/>
<text transform="translate(195.30,325.90) rotate(-45)" font-size="8.0" text-anchor="end" fill="#333" stroke="#333" stroke-width="0.2">pre-HCT</text>
<text transform="translate(214.85,325.90) rotate(-45)" font-size="8.0" text-anchor="end" fill="#333" stroke="#333" stroke-width="0.2">post-HCT/pre-FMT</text>
<text transform="translate(234.40,325.90) rotate(-45)" font-size="8.0" text-anchor="end" fill="#333" stroke="#333" stroke-width="0.2">post-FMT day 7</text>
<text transform="translate(253.95,325.90) rotate(-45)" font-size="8.0" text-anchor="end" fill="#333" stroke="#333" stroke-width="0.2">post-FMT day 30</text>
<text x="220.60" y="228.10" font-size="9.2" text-anchor="middle" fill="#222" font-weight="normal" >Patient 6</text>
<rect x="302.55" y="290.30" width="17.30" height="21.00" fill="#a9032c"/>
<rect x="302.55" y="238.40" width="17.30" height="51.90" fill="#65a842"/>
<rect x="322.15" y="238.98" width="17.30" height="72.32" fill="#a9032c"/>
<rect x="322.15" y="238.40" width="17.30" height="0.58" fill="#65a842"/>
<rect x="341.75" y="307.87" width="17.30" height="3.43" fill="#a9032c"/>
<rect x="341.75" y="259.98" width="17.30" height="47.90" fill="#e9b824"/>
<rect x="341.75" y="238.69" width="17.30" height="21.29" fill="#65a842"/>
<rect x="341.75" y="238.40" width="17.30" height="0.29" fill="#2d4a7a"/>
<rect x="361.35" y="308.75" width="17.30" height="2.55" fill="#a9032c"/>
<rect x="361.35" y="279.22" width="17.30" height="29.52" fill="#e9b824"/>
<rect x="361.35" y="238.91" width="17.30" height="40.31" fill="#65a842"/>
<rect x="361.35" y="238.40" width="17.30" height="0.51" fill="#2d4a7a"/>
<line x1="299.60" y1="234.80" x2="299.60" y2="315.30" stroke="#000" stroke-width="1.4"/>
<line x1="298.90" y1="314.60" x2="381.20" y2="314.60" stroke="#000" stroke-width="1.4"/>
<line x1="296.10" y1="311.30" x2="299.60" y2="311.30" stroke="#000" stroke-width="1.1"/>
<text x="293.00" y="314.30" font-size="9.2" text-anchor="end" fill="#505050" font-weight="normal" textLength="15.8" lengthAdjust="spacingAndGlyphs" >0.00</text>
<line x1="296.10" y1="293.07" x2="299.60" y2="293.07" stroke="#000" stroke-width="1.1"/>
<text x="293.00" y="296.07" font-size="9.2" text-anchor="end" fill="#505050" font-weight="normal" textLength="15.8" lengthAdjust="spacingAndGlyphs" >0.25</text>
<line x1="296.10" y1="274.85" x2="299.60" y2="274.85" stroke="#000" stroke-width="1.1"/>
<text x="293.00" y="277.85" font-size="9.2" text-anchor="end" fill="#505050" font-weight="normal" textLength="15.8" lengthAdjust="spacingAndGlyphs" >0.50</text>
<line x1="296.10" y1="256.62" x2="299.60" y2="256.62" stroke="#000" stroke-width="1.1"/>
<text x="293.00" y="259.62" font-size="9.2" text-anchor="end" fill="#505050" font-weight="normal" textLength="15.8" lengthAdjust="spacingAndGlyphs" >0.75</text>
<line x1="296.10" y1="238.40" x2="299.60" y2="238.40" stroke="#000" stroke-width="1.1"/>
<text x="293.00" y="241.40" font-size="9.2" text-anchor="end" fill="#505050" font-weight="normal" textLength="15.8" lengthAdjust="spacingAndGlyphs" >1.00</text>
<line x1="311.20" y1="314.60" x2="311.20" y2="317.60" stroke="#000" stroke-width="1.0"/>
<line x1="330.80" y1="314.60" x2="330.80" y2="317.60" stroke="#000" stroke-width="1.0"/>
<line x1="350.40" y1="314.60" x2="350.40" y2="317.60" stroke="#000" stroke-width="1.0"/>
<line x1="370.00" y1="314.60" x2="370.00" y2="317.60" stroke="#000" stroke-width="1.0"/>
<text transform="translate(310.20,325.90) rotate(-45)" font-size="8.0" text-anchor="end" fill="#333" stroke="#333" stroke-width="0.2">pre-HCT</text>
<text transform="translate(326.00,325.90) rotate(-45)" font-size="8.0" text-anchor="end" fill="#333" stroke="#333" stroke-width="0.2">post-HCT/pre-FMT</text>
<text transform="translate(339.80,325.90) rotate(-45)" font-size="8.0" text-anchor="end" fill="#333" stroke="#333" stroke-width="0.2">post-FMT day 7</text>
<text transform="translate(354.60,325.90) rotate(-45)" font-size="8.0" text-anchor="end" fill="#333" stroke="#333" stroke-width="0.2">post-FMT day 30</text>
<text transform="translate(369.30,325.90) rotate(-45)" font-size="8.0" text-anchor="end" fill="#333" stroke="#333" stroke-width="0.2">post-FMT day 60</text>
<text x="338.20" y="228.10" font-size="9.2" text-anchor="middle" fill="#222" font-weight="normal" >Patient 12</text>
<rect x="421.75" y="299.93" width="14.30" height="11.37" fill="#a9032c"/>
<rect x="421.75" y="238.40" width="14.30" height="61.53" fill="#65a842"/>
<rect x="437.65" y="291.18" width="14.30" height="20.12" fill="#a9032c"/>
<rect x="437.65" y="238.40" width="14.30" height="52.78" fill="#65a842"/>
<rect x="453.55" y="307.07" width="14.30" height="4.23" fill="#a9032c"/>
<rect x="453.55" y="279.01" width="14.30" height="28.07" fill="#e9b824"/>
<rect x="453.55" y="242.41" width="14.30" height="36.60" fill="#65a842"/>
<rect x="453.55" y="238.40" width="14.30" height="4.01" fill="#2d4a7a"/>
<rect x="469.45" y="307.87" width="14.30" height="3.43" fill="#a9032c"/>
<rect x="469.45" y="291.62" width="14.30" height="16.26" fill="#e9b824"/>
<rect x="469.45" y="241.17" width="14.30" height="50.45" fill="#65a842"/>
<rect x="469.45" y="238.40" width="14.30" height="2.77" fill="#2d4a7a"/>
<rect x="485.35" y="305.83" width="14.30" height="5.47" fill="#a9032c"/>
<rect x="485.35" y="290.52" width="14.30" height="15.31" fill="#e9b824"/>
<rect x="485.35" y="241.17" width="14.30" height="49.35" fill="#65a842"/>
<rect x="485.35" y="238.40" width="14.30" height="2.77" fill="#2d4a7a"/>
<line x1="419.90" y1="234.80" x2="419.90" y2="315.30" stroke="#000" stroke-width="1.4"/>
<line x1="419.20" y1="314.60" x2="502.50" y2="314.60" stroke="#000" stroke-width="1.4"/>
<line x1="416.40" y1="311.30" x2="419.90" y2="311.30" stroke="#000" stroke-width="1.1"/>
<text x="413.30" y="314.30" font-size="9.2" text-anchor="end" fill="#505050" font-weight="normal" textLength="15.8" lengthAdjust="spacingAndGlyphs" >0.00</text>
<line x1="416.40" y1="293.07" x2="419.90" y2="293.07" stroke="#000" stroke-width="1.1"/>
<text x="413.30" y="296.07" font-size="9.2" text-anchor="end" fill="#505050" font-weight="normal" textLength="15.8" lengthAdjust="spacingAndGlyphs" >0.25</text>
<line x1="416.40" y1="274.85" x2="419.90" y2="274.85" stroke="#000" stroke-width="1.1"/>
<text x="413.30" y="277.85" font-size="9.2" text-anchor="end" fill="#505050" font-weight="normal" textLength="15.8" lengthAdjust="spacingAndGlyphs" >0.50</text>
<line x1="416.40" y1="256.62" x2="419.90" y2="256.62" stroke="#000" stroke-width="1.1"/>
<text x="413.30" y="259.62" font-size="9.2" text-anchor="end" fill="#505050" font-weight="normal" textLength="15.8" lengthAdjust="spacingAndGlyphs" >0.75</text>
<line x1="416.40" y1="238.40" x2="419.90" y2="238.40" stroke="#000" stroke-width="1.1"/>
<text x="413.30" y="241.40" font-size="9.2" text-anchor="end" fill="#505050" font-weight="normal" textLength="15.8" lengthAdjust="spacingAndGlyphs" >1.00</text>
<line x1="428.90" y1="314.60" x2="428.90" y2="317.60" stroke="#000" stroke-width="1.0"/>
<line x1="444.80" y1="314.60" x2="444.80" y2="317.60" stroke="#000" stroke-width="1.0"/>
<line x1="460.70" y1="314.60" x2="460.70" y2="317.60" stroke="#000" stroke-width="1.0"/>
<line x1="476.60" y1="314.60" x2="476.60" y2="317.60" stroke="#000" stroke-width="1.0"/>
<line x1="492.50" y1="314.60" x2="492.50" y2="317.60" stroke="#000" stroke-width="1.0"/>
<text transform="translate(433.30,325.90) rotate(-45)" font-size="8.0" text-anchor="end" fill="#333" stroke="#333" stroke-width="0.2">pre-HCT</text>
<text transform="translate(449.20,325.90) rotate(-45)" font-size="8.0" text-anchor="end" fill="#333" stroke="#333" stroke-width="0.2">post-HCT/pre-FMT</text>
<text transform="translate(465.10,325.90) rotate(-45)" font-size="8.0" text-anchor="end" fill="#333" stroke="#333" stroke-width="0.2">post-FMT day 7</text>
<text transform="translate(481.00,325.90) rotate(-45)" font-size="8.0" text-anchor="end" fill="#333" stroke="#333" stroke-width="0.2">post-FMT day 30</text>
<text transform="translate(496.90,325.90) rotate(-45)" font-size="8.0" text-anchor="end" fill="#333" stroke="#333" stroke-width="0.2">post-FMT day 60</text>
<text x="460.50" y="228.10" font-size="9.2" text-anchor="middle" fill="#222" font-weight="normal" >Patient 14</text>
<text x="156.00" y="389.70" font-size="7.8" text-anchor="start" fill="#222" font-weight="normal" textLength="48" lengthAdjust="spacingAndGlyphs" >Bacterial origin</text>
<rect x="155.40" y="395.40" width="6.20" height="6.20" fill="#a9032c"/>
<text x="165.00" y="401.20" font-size="8.0" text-anchor="start" fill="#222" font-weight="normal" textLength="50.4" lengthAdjust="spacingAndGlyphs" >Patient pre-FMT</text>
<rect x="231.60" y="395.40" width="6.20" height="6.20" fill="#e9b824"/>
<text x="241.60" y="401.20" font-size="8.0" text-anchor="start" fill="#222" font-weight="normal" textLength="34.6" lengthAdjust="spacingAndGlyphs" >FMT donor</text>
<rect x="293.00" y="395.40" width="6.20" height="6.20" fill="#65a842"/>
<text x="302.80" y="401.20" font-size="8.0" text-anchor="start" fill="#222" font-weight="normal" textLength="14.5" lengthAdjust="spacingAndGlyphs" >Both</text>
<rect x="333.20" y="395.40" width="6.20" height="6.20" fill="#2d4a7a"/>
<text x="342.80" y="401.20" font-size="8.0" text-anchor="start" fill="#222" font-weight="normal" textLength="23.4" lengthAdjust="spacingAndGlyphs" >Neither</text>
<rect x="0.6" y="0.6" width="518.8" height="408.8" fill="none" stroke="#000" stroke-width="1.3"/>
</svg>
</body></html>
